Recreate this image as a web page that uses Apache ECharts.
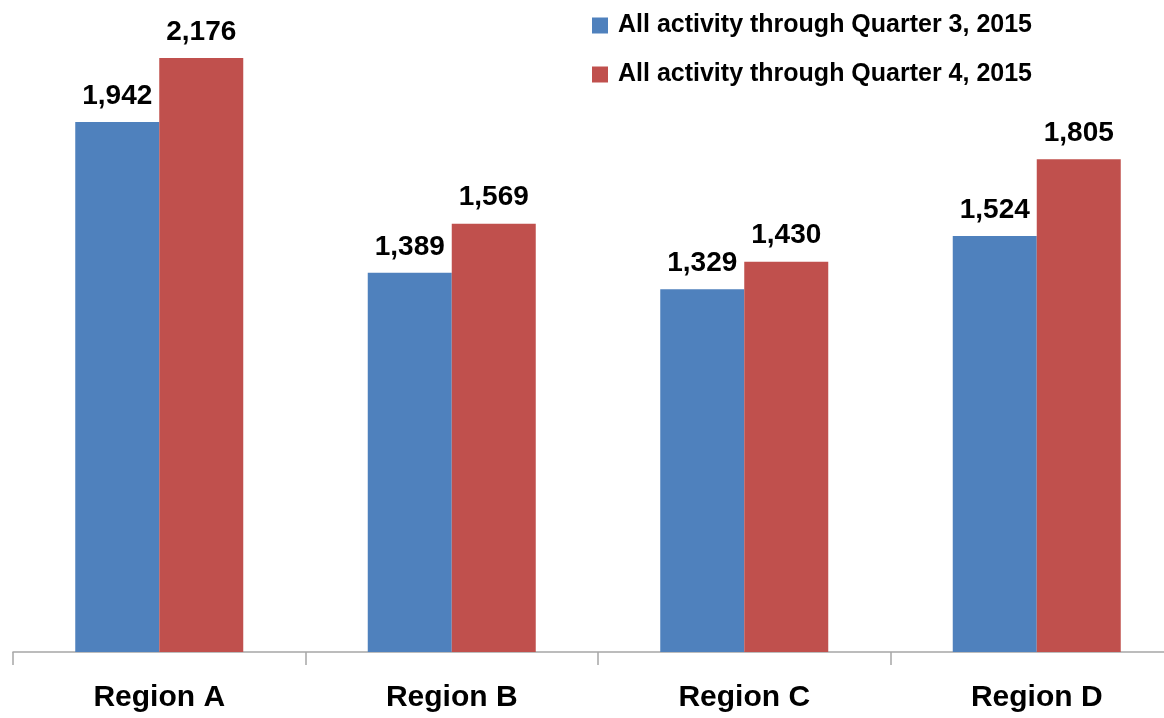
<!DOCTYPE html>
<html>
<head>
<meta charset="utf-8">
<style>
  html, body { margin: 0; padding: 0; background: #ffffff; }
  #chart { width: 1164px; height: 718px; }
</style>
<script src="https://cdn.jsdelivr.net/npm/echarts@6/dist/echarts.min.js"></script>
</head>
<body>
<div id="chart"></div>
<script>
// Regions along the category axis
const regions = ['Region A', 'Region B', 'Region C', 'Region D'];

// Cumulative activity counts per region
const seriesNames = ['All activity through Quarter 3, 2015', 'All activity through Quarter 4, 2015'];
const q3Values = [1942, 1389, 1329, 1524];
const q4Values = [2176, 1569, 1430, 1805];

const colors = ['#4F81BD', '#C0504D'];
const font = '"Liberation Sans", Arial, sans-serif';

const fmt = v => Number(v).toLocaleString('en-US');

const labelStyle = {
  show: true,
  position: 'top',
  distance: 12,
  color: '#000',
  fontFamily: font,
  fontWeight: 'bold',
  fontSize: 28,
  formatter: p => fmt(p.value)
};

const chart = echarts.init(document.getElementById('chart'), null, { renderer: 'canvas' });

chart.setOption({
  animation: false,
  backgroundColor: '#ffffff',
  color: colors,
  legend: {
    orient: 'vertical',
    left: 592,
    top: 13,
    padding: 0,
    itemWidth: 16,
    itemHeight: 16,
    itemGap: 24,
    icon: 'rect',
    textStyle: {
      color: '#000',
      fontFamily: font,
      fontWeight: 'bold',
      fontSize: 25,
      lineHeight: 25,
      padding: [0, 0, 0, 5]
    },
    data: seriesNames
  },
  // The plot area runs past the right edge of the canvas, so the last
  // category boundary falls outside the visible area.
  grid: {
    left: 13,
    width: 1170,
    top: 58,
    bottom: 66,
    containLabel: false,
    outerBoundsMode: 'none'
  },
  xAxis: {
    type: 'category',
    data: regions,
    boundaryGap: true,
    axisLine: { show: true, lineStyle: { color: '#A6A6A6', width: 1.5 } },
    axisTick: { show: true, length: 13, lineStyle: { color: '#A6A6A6', width: 1.5 } },
    axisLabel: {
      margin: 31,
      color: '#000',
      fontFamily: font,
      fontWeight: 'bold',
      fontSize: 30
    }
  },
  yAxis: {
    type: 'value',
    min: 0,
    max: 2176,
    show: false,
    splitLine: { show: false }
  },
  series: [
    {
      name: seriesNames[0],
      type: 'bar',
      data: q3Values,
      barWidth: 84,
      barGap: '0%',
      label: labelStyle
    },
    {
      name: seriesNames[1],
      type: 'bar',
      data: q4Values,
      barWidth: 84,
      barGap: '0%',
      label: labelStyle
    }
  ]
});
</script>
</body>
</html>
